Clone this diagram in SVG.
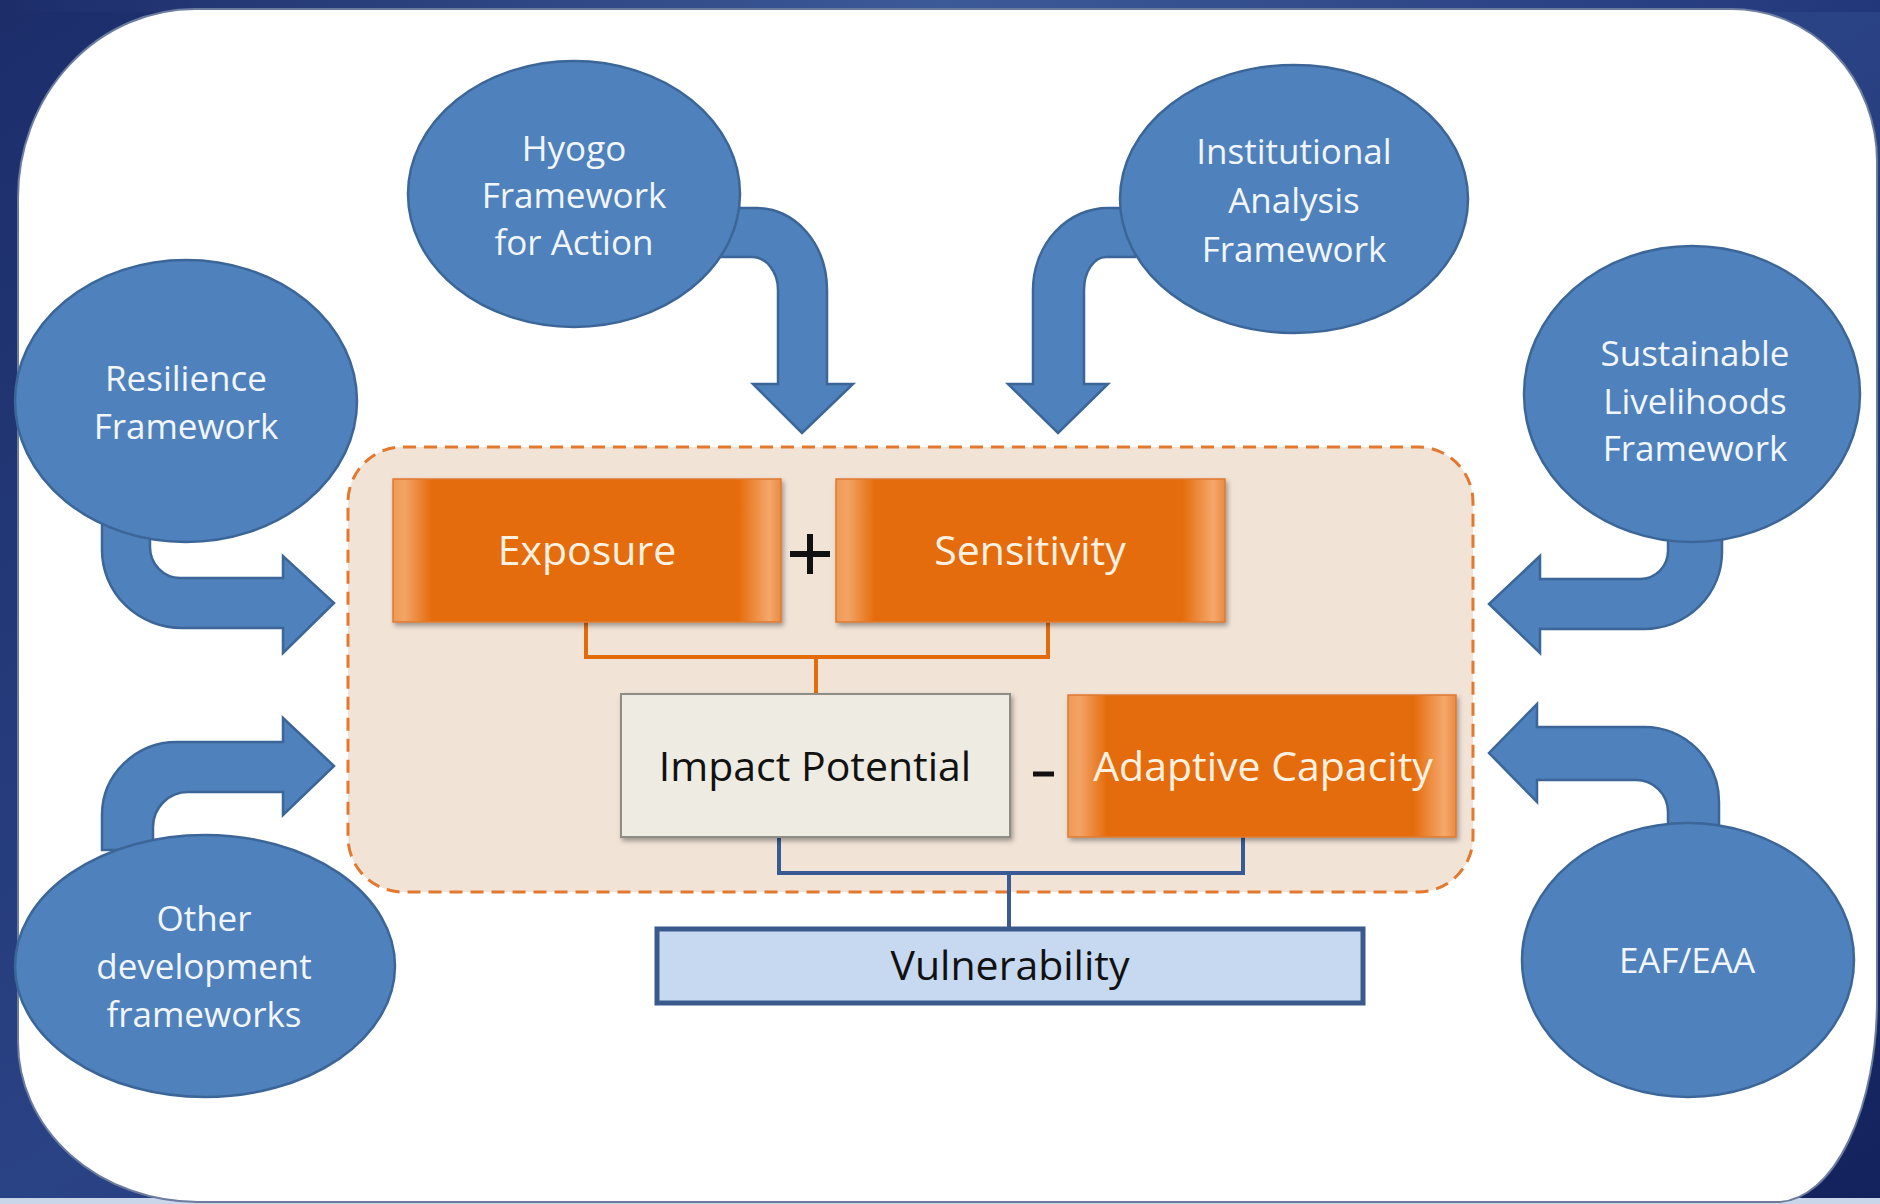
<svg xmlns="http://www.w3.org/2000/svg" width="1880" height="1204" viewBox="0 0 1880 1204">
<defs>
  <linearGradient id="bg" x1="0" y1="0" x2="1" y2="1">
    <stop offset="0" stop-color="#1c2d6a"/>
    <stop offset="0.5" stop-color="#2a4384"/>
    <stop offset="1" stop-color="#13225c"/>
  </linearGradient>
  <linearGradient id="bgTop" x1="0" y1="0" x2="1" y2="0">
    <stop offset="0" stop-color="#1c2d6a"/>
    <stop offset="0.5" stop-color="#3d5a98"/>
    <stop offset="1" stop-color="#22377a"/>
  </linearGradient>
  <linearGradient id="orangeFill" x1="0" y1="0" x2="1" y2="0">
    <stop offset="0" stop-color="#ef9a55"/>
    <stop offset="0.03" stop-color="#f2a466"/>
    <stop offset="0.1" stop-color="#e46c0c"/>
    <stop offset="0.89" stop-color="#e46c0c"/>
    <stop offset="0.97" stop-color="#f4a86c"/>
    <stop offset="1" stop-color="#e98a43"/>
  </linearGradient>
  <filter id="shadow" x="-5%" y="-10%" width="115%" height="130%">
    <feDropShadow dx="2" dy="3" stdDeviation="2.5" flood-color="#000" flood-opacity="0.35"/>
  </filter>
  <style>
    .ell { fill: #4f81bd; stroke: #3b6697; stroke-width: 2.5; }
    .etxt { font-family: "Open Sans", "Liberation Sans", sans-serif; font-size: 35px; fill: #f2f6fb; text-anchor: middle; }
    .barrow { fill: #4f81bd; stroke: #3b6697; stroke-width: 2.5; stroke-linejoin: miter; }
    .obox { fill: url(#orangeFill); stroke: #e07a30; stroke-width: 1.5; filter: url(#shadow); }
    .otxt { font-family: "Open Sans", "Liberation Sans", sans-serif; font-size: 41px; fill: #fdf1e2; text-anchor: middle; }
    .btxt { font-family: "Open Sans", "Liberation Sans", sans-serif; font-size: 41px; fill: #111; text-anchor: middle; }
    .oline { fill: none; stroke: #e36c0a; stroke-width: 4; }
    .bline { fill: none; stroke: #3a5a94; stroke-width: 4; }
  </style>
</defs>

<!-- background -->
<rect x="0" y="0" width="1880" height="1204" fill="url(#bg)"/>
<rect x="0" y="0" width="1880" height="12" fill="url(#bgTop)"/>
<rect x="0" y="1198" width="1880" height="6" fill="#c9d6ea"/>
<path d="M 195 9 H 1732 A 145 152 0 0 1 1877 161 V 1000 A 100 202 0 0 1 1780 1202 H 198 A 180 160 0 0 1 18 1042 V 198 A 177 189 0 0 1 195 9 Z" fill="#ffffff" stroke="#6b7c9e" stroke-width="2"/>

<!-- container -->
<g id="container">
  <rect x="348" y="447" width="1125" height="445" rx="55" ry="55" fill="#f2e3d7" stroke="#e3782f" stroke-width="3" stroke-dasharray="13 8"/>
</g>

<!-- connectors -->
<g id="connectors">
  <!-- Hyogo -> container -->
  <path class="barrow" d="M 730 208 L 757 208 A 70 82 0 0 1 827 290 L 827 384 L 853 384 L 802 433 L 753 384 L 778 384 L 778 290 A 26 33 0 0 0 752 257 L 715 257 Z"/>
  <!-- Institutional -> container -->
  <path class="barrow" d="M 1135 208 L 1108 208 A 75 82 0 0 0 1033 290 L 1033 384 L 1008 384 L 1058 433 L 1108 384 L 1084 384 L 1084 290 A 22 33 0 0 1 1106 257 L 1135 257 Z"/>
  <!-- Resilience -> container -->
  <path class="barrow" d="M 102 520 L 102 550 A 80 78 0 0 0 182 628 L 283 628 L 283 653 L 334 603 L 283 556 L 283 578 L 180 578 A 30 31 0 0 1 150 547 L 150 520 Z"/>
  <!-- Other development -> container -->
  <path class="barrow" d="M 102 850 L 102 815 A 75 73 0 0 1 177 742 L 283 742 L 283 718 L 334 766 L 283 815 L 283 792 L 188 792 A 35 35 0 0 0 153 827 L 153 850 Z"/>
  <!-- Sustainable -> container -->
  <path class="barrow" d="M 1722 520 L 1722 552 A 78 77 0 0 1 1644 629 L 1540 629 L 1540 653 L 1489 604 L 1540 556 L 1540 579 L 1640 579 A 28 28 0 0 0 1668 551 L 1668 520 Z"/>
  <!-- EAF -> container -->
  <path class="barrow" d="M 1719 845 L 1719 802 A 75 75 0 0 0 1644 727 L 1537 727 L 1537 704 L 1489 753 L 1537 802 L 1537 780 L 1636 780 A 32 32 0 0 1 1668 812 L 1668 845 Z"/>
  <!-- orange bracket: Exposure + Sensitivity -> Impact Potential -->
  <path class="oline" d="M 586 622 V 657 H 1048 V 622 M 816 657 V 695"/>
  <!-- blue bracket: Impact Potential - Adaptive Capacity -> Vulnerability -->
  <path class="bline" d="M 779 837 V 873 H 1243 V 837 M 1009 873 V 929"/>
</g>

<!-- framework nodes -->
<g id="hyogo">
  <ellipse class="ell" cx="574" cy="194" rx="166" ry="133"/>
  <text class="etxt" x="574" y="161">Hyogo</text>
  <text class="etxt" x="574" y="208">Framework</text>
  <text class="etxt" x="574" y="255">for Action</text>
</g>
<g id="institutional">
  <ellipse class="ell" cx="1294" cy="199" rx="174" ry="134"/>
  <text class="etxt" x="1294" y="164">Institutional</text>
  <text class="etxt" x="1294" y="213">Analysis</text>
  <text class="etxt" x="1294" y="262">Framework</text>
</g>
<g id="resilience">
  <ellipse class="ell" cx="186" cy="401" rx="171" ry="141"/>
  <text class="etxt" x="186" y="391">Resilience</text>
  <text class="etxt" x="186" y="439">Framework</text>
</g>
<g id="sustainable">
  <ellipse class="ell" cx="1692" cy="394" rx="168" ry="148"/>
  <text class="etxt" x="1695" y="366">Sustainable</text>
  <text class="etxt" x="1695" y="414">Livelihoods</text>
  <text class="etxt" x="1695" y="461">Framework</text>
</g>
<g id="other">
  <ellipse class="ell" cx="205" cy="966" rx="190" ry="131"/>
  <text class="etxt" x="204" y="931">Other</text>
  <text class="etxt" x="204" y="979">development</text>
  <text class="etxt" x="204" y="1027">frameworks</text>
</g>
<g id="eaf">
  <ellipse class="ell" cx="1688" cy="960" rx="166" ry="137"/>
  <text class="etxt" x="1687" y="973">EAF/EAA</text>
</g>

<!-- vulnerability component nodes -->
<g id="exposure">
  <rect class="obox" x="393" y="479" width="388" height="143"/>
  <text class="otxt" x="587" y="565">Exposure</text>
</g>
<g id="plus">
  <path d="M 790 554 H 830 M 810 534 V 574" stroke="#111" stroke-width="6" fill="none"/>
</g>
<g id="sensitivity">
  <rect class="obox" x="836" y="479" width="389" height="143"/>
  <text class="otxt" x="1030" y="565">Sensitivity</text>
</g>
<g id="impact">
  <rect x="621" y="694" width="389" height="143" fill="#eeebe2" stroke="#8e8d85" stroke-width="2" filter="url(#shadow)"/>
  <text class="btxt" x="815" y="781">Impact Potential</text>
</g>
<g id="minus">
  <path d="M 1033 774 H 1054" stroke="#111" stroke-width="5" fill="none"/>
</g>
<g id="adaptive">
  <rect class="obox" x="1068" y="695" width="388" height="142"/>
  <text class="otxt" x="1263" y="781">Adaptive Capacity</text>
</g>
<g id="vulnerability">
  <rect x="657" y="929" width="706" height="74" fill="#c6d9f0" stroke="#3a5a8c" stroke-width="5"/>
  <text class="btxt" x="1010" y="980">Vulnerability</text>
</g>
</svg>
